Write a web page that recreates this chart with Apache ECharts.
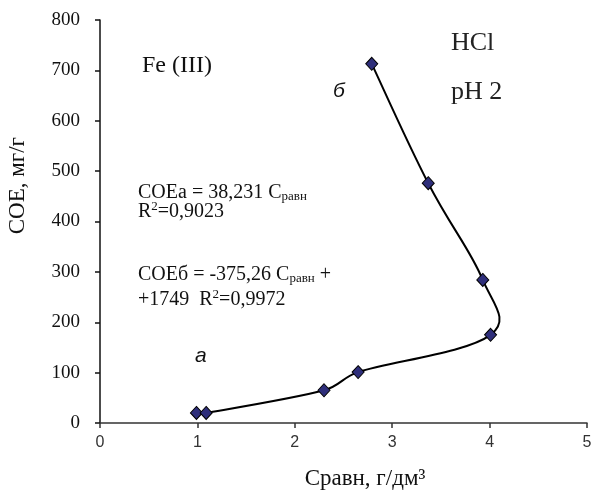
<!DOCTYPE html>
<html><head><meta charset="utf-8">
<script src="https://cdn.jsdelivr.net/npm/echarts@6/dist/echarts.min.js"></script>
<style>html,body{margin:0;padding:0;background:#fff}#c{width:595px;height:493px}</style>
</head><body><div id="c"></div>
<script>
// Data
const cRavn = [0.99, 1.09, 2.30, 2.65, 4.01, 3.93, 3.37, 2.79];
const coe   = [20, 20, 65, 101, 175, 284, 476, 713];
const xMin = 0, xMax = 5, xStep = 1;
const yMin = 0, yMax = 800, yStep = 100;

const points = cRavn.map((x, i) => [x, coe[i]]);
const serif = '"Liberation Serif", "Times New Roman", serif';
const sans = '"Liberation Sans", Arial, sans-serif';

const chart = echarts.init(document.getElementById('c'), null, {renderer: 'canvas'});
const sub = {fontFamily: serif, fontSize: 13, fill: '#111', padding: [9, 0, 0, 0]};
const sup = {fontFamily: serif, fontSize: 13, fill: '#111', padding: [0, 0, 10, 0]};
const n = {fontFamily: serif, fontSize: 20, fill: '#111'};

// Smooth curve through the data points (Excel-like Catmull-Rom), positioned by the axes
function renderCurve(params, api) {
  if (params.dataIndex !== 0) return null;
  const p = points.map(d => api.coord(d));
  const k = 1 / 5, cap = 0.45;
  function arm(a, b, segLen) {
    const dx = b[0] - a[0], dy = b[1] - a[1];
    const len = Math.hypot(dx, dy) || 1;
    const L = Math.min(len * k, segLen * cap);
    return [dx / len * L, dy / len * L];
  }
  const children = [];
  for (let i = 0; i < p.length - 1; i++) {
    const p0 = p[Math.max(i - 1, 0)], p1 = p[i], p2 = p[i + 1], p3 = p[Math.min(i + 2, p.length - 1)];
    const seg = Math.hypot(p2[0] - p1[0], p2[1] - p1[1]);
    const a1 = arm(p0, p2, seg), a2 = arm(p1, p3, seg);
    children.push({
      type: 'bezierCurve',
      shape: {
        x1: p1[0], y1: p1[1], x2: p2[0], y2: p2[1],
        cpx1: p1[0] + a1[0], cpy1: p1[1] + a1[1],
        cpx2: p2[0] - a2[0], cpy2: p2[1] - a2[1]
      },
      style: {stroke: '#000', lineWidth: 2, fill: null}
    });
  }
  return {type: 'group', children: children};
}

chart.setOption({
  animation: false,
  backgroundColor: '#fff',
  grid: {left: 100, right: 8, top: 20, bottom: 70},
  xAxis: {
    type: 'value', min: xMin, max: xMax, interval: xStep,
    axisLine: {show: true, onZero: false, lineStyle: {color: '#333', width: 1.5}},
    axisTick: {show: true, inside: false, length: 5, lineStyle: {color: '#333', width: 1.5}},
    axisLabel: {fontFamily: sans, fontSize: 16, color: '#333', margin: 12},
    splitLine: {show: false}
  },
  yAxis: {
    type: 'value', min: yMin, max: yMax, interval: yStep,
    axisLine: {show: true, onZero: false, lineStyle: {color: '#111', width: 1.5}},
    axisTick: {show: true, inside: false, length: 5, lineStyle: {color: '#111', width: 1.5}},
    axisLabel: {fontFamily: serif, fontSize: 19, color: '#111', margin: 20},
    splitLine: {show: false}
  },
  series: [{
    type: 'custom',
    data: points,
    encode: {x: 0, y: 1},
    renderItem: renderCurve,
    clip: false,
    silent: true,
    z: 2
  }, {
    type: 'scatter',
    data: points,
    symbol: 'diamond',
    symbolSize: [12, 13],
    itemStyle: {color: '#2e2e7a', borderColor: '#000', borderWidth: 1, opacity: 1},
    z: 3
  }],
  graphic: [
    {type: 'text', left: 6, top: 137, rotation: Math.PI / 2, style: {text: 'COE, мг/г', font: '23px ' + serif, fill: '#111'}},
    {type: 'text', style: {x: 365, y: 479, text: 'Cравн, г/дм³', font: '23px ' + serif, fill: '#111', align: 'center', verticalAlign: 'middle'}},
    {type: 'text', style: {x: 142, y: 66, text: 'Fe (III)', font: '24px ' + serif, fill: '#111', verticalAlign: 'middle'}},
    {type: 'text', style: {x: 451, y: 43, text: 'HCl', font: '26px ' + serif, fill: '#222', verticalAlign: 'middle'}},
    {type: 'text', style: {x: 451, y: 92, text: 'pH 2', font: '26px ' + serif, fill: '#222', verticalAlign: 'middle'}},
    {type: 'text', style: {x: 333, y: 91, text: 'б', font: 'italic 21px ' + sans, fill: '#111', verticalAlign: 'middle'}},
    {type: 'text', style: {x: 195, y: 356, text: 'а', font: 'italic 21px ' + sans, fill: '#111', verticalAlign: 'middle'}},
    {type: 'text', style: {x: 138, y: 183, text: '{n|COEa = 38,231 C}{s|равн}\n{n|R}{p|2}{n|=0,9023}', verticalAlign: 'top', lineHeight: 19, rich: {n: n, s: sub, p: sup}}},
    {type: 'text', style: {x: 138, y: 262, text: '{n|COEб = -375,26 C}{s|равн}{n| +}\n{n|+1749  R}{p|2}{n|=0,9972}', verticalAlign: 'top', lineHeight: 25, rich: {n: n, s: sub, p: sup}}}
  ]
});
</script>
</body></html>
